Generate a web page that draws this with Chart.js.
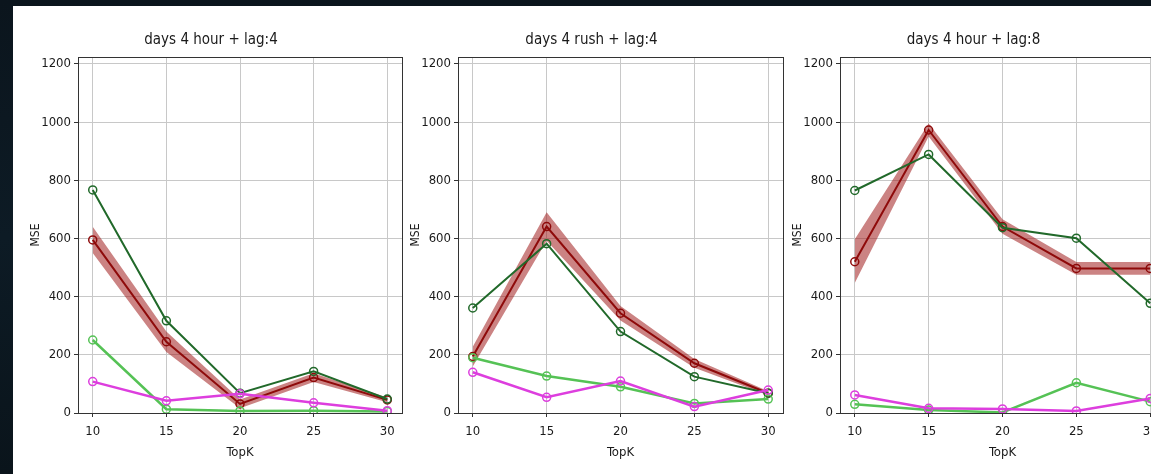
<!DOCTYPE html>
<html>
<head>
<meta charset="utf-8">
<script src="https://cdn.jsdelivr.net/npm/chart.js@4/dist/chart.umd.min.js"></script>
<style>
  html, body { margin: 0; padding: 0; }
  body {
    width: 1151px; height: 474px; overflow: hidden; position: relative;
    background: linear-gradient(180deg, #0b151d 0%, #0d1b25 50%, #0a141b 100%);
  }
  .panel { position: absolute; left: 13px; top: 6px; right: 0; bottom: 0; background: #fff; }
  canvas { position: absolute; top: 6px; }
</style>
</head>
<body>
<div class="panel"></div>
<canvas id="c1" width="390" height="468" style="left:20px"></canvas>
<canvas id="c2" width="391" height="468" style="left:400px"></canvas>
<canvas id="c3" width="391" height="468" style="left:782px"></canvas>
<script>
// x values and tick labels shared by all three panels
const topK = [10, 15, 20, 25, 30];
const yTicks = [0, 200, 400, 600, 800, 1000, 1200];

// days 4 hour + lag:4
const hour4Red = [595, 245, 31, 122, 45];
const hour4RedLow = [550, 210, 16, 107, 37];
const hour4RedHigh = [640, 280, 46, 137, 53];
const hour4DarkGreen = [767, 317, 68, 143, 48];
const hour4LightGreen = [251, 13, 7, 8, 5];
const hour4Magenta = [108, 42, 66, 35, 8];

// days 4 rush + lag:4
const rush4Red = [194, 641, 343, 171, 68];
const rush4RedLow = [160, 592, 318, 156, 61];
const rush4RedHigh = [228, 690, 368, 186, 75];
const rush4DarkGreen = [361, 582, 280, 125, 68];
const rush4LightGreen = [190, 127, 90, 33, 48];
const rush4Magenta = [140, 54, 110, 22, 79];

// days 4 hour + lag:8
const hour8Red = [520, 973, 641, 497, 497];
const hour8RedLow = [447, 951, 616, 475, 475];
const hour8RedHigh = [597, 995, 666, 519, 519];
const hour8DarkGreen = [765, 889, 637, 601, 377];
const hour8LightGreen = [30, 10, 2, 104, 39];
const hour8Magenta = [62, 16, 14, 7, 50];

const FONT = "'DejaVu Sans Condensed', 'Liberation Sans', sans-serif";
const TEXT = '#1a1a1a';

// matplotlib style box around the plot area
const framePlugin = {
    id: 'frame',
    afterDatasetsDraw(chart) {
        const a = chart.chartArea;
        const ctx = chart.ctx;
        ctx.save();
        ctx.strokeStyle = '#333';
        ctx.lineWidth = 1;
        ctx.strokeRect(Math.round(a.left) + 0.5, Math.round(a.top) + 0.5,
            Math.round(a.right - a.left), Math.round(a.bottom - a.top));
        ctx.restore();
    }
};

function toXY(ys) {
    return ys.map((y, i) => ({ x: topK[i], y: y }));
}

function lineSet(label, ys, color, width, order) {
    return {
        label: label,
        data: toXY(ys),
        borderColor: color,
        backgroundColor: color,
        borderWidth: width,
        pointRadius: 4,
        pointBorderWidth: 1.5,
        pointBorderColor: color,
        pointBackgroundColor: 'rgba(0,0,0,0)',
        tension: 0,
        fill: false,
        order: order
    };
}

function makeChart(id, title, red, redLow, redHigh, darkGreen, lightGreen, magenta) {
    const ctx = document.getElementById(id).getContext('2d');
    return new Chart(ctx, {
        type: 'line',
        data: {
            datasets: [
                {
                    label: 'band',
                    data: toXY(redHigh),
                    borderWidth: 0,
                    pointRadius: 0,
                    backgroundColor: 'rgba(160, 30, 30, 0.55)',
                    fill: '+1',
                    order: 7
                },
                {
                    label: 'band low',
                    data: toXY(redLow),
                    borderWidth: 0,
                    pointRadius: 0,
                    fill: false,
                    order: 7
                },
                lineSet('red', red, '#8e0a0a', 2, 5),
                lineSet('dark green', darkGreen, '#21692a', 2, 4),
                lineSet('light green', lightGreen, '#55c255', 2.5, 3),
                lineSet('magenta', magenta, '#dd3ede', 2.5, 2)
            ]
        },
        options: {
            responsive: false,
            animation: false,
            events: [],
            layout: { padding: { left: 0, right: 8, top: 0, bottom: 0 } },
            plugins: {
                legend: { display: false },
                tooltip: { enabled: false },
                title: {
                    display: true,
                    text: title,
                    color: TEXT,
                    font: { family: FONT, size: 15, weight: 'normal' },
                    padding: { top: 25, bottom: 8 }
                }
            },
            scales: {
                x: {
                    type: 'linear',
                    min: 9,
                    max: 31,
                    afterBuildTicks: (axis) => { axis.ticks = topK.map(v => ({ value: v })); },
                    afterFit: (axis) => { axis.height = 61; },
                    grid: { color: '#c8c8c8', tickColor: '#333', tickLength: 4 },
                    border: { display: false },
                    ticks: {
                        color: TEXT, font: { family: FONT, size: 13 }, padding: 7, maxRotation: 0,
                        callback: (v) => String(v)
                    },
                    title: {
                        display: true, text: 'TopK', color: TEXT,
                        font: { family: FONT, size: 13 }, padding: { top: 0, bottom: 14 }
                    }
                },
                y: {
                    min: 0,
                    max: 1224,
                    afterBuildTicks: (axis) => { axis.ticks = yTicks.map(v => ({ value: v })); },
                    afterFit: (axis) => { axis.width = 58; },
                    grid: { color: '#c8c8c8', tickColor: '#333', tickLength: 4 },
                    border: { display: false },
                    ticks: {
                        color: TEXT, font: { family: FONT, size: 13 }, padding: 3,
                        callback: (v) => String(v)
                    },
                    title: {
                        display: true, text: 'MSE', color: TEXT,
                        font: { family: FONT, size: 12 }, padding: { top: 9, bottom: 0 }
                    }
                }
            }
        },
        plugins: [framePlugin]
    });
}

makeChart('c1', 'days 4 hour + lag:4', hour4Red, hour4RedLow, hour4RedHigh, hour4DarkGreen, hour4LightGreen, hour4Magenta);
makeChart('c2', 'days 4 rush + lag:4', rush4Red, rush4RedLow, rush4RedHigh, rush4DarkGreen, rush4LightGreen, rush4Magenta);
makeChart('c3', 'days 4 hour + lag:8', hour8Red, hour8RedLow, hour8RedHigh, hour8DarkGreen, hour8LightGreen, hour8Magenta);
</script>
</body>
</html>
